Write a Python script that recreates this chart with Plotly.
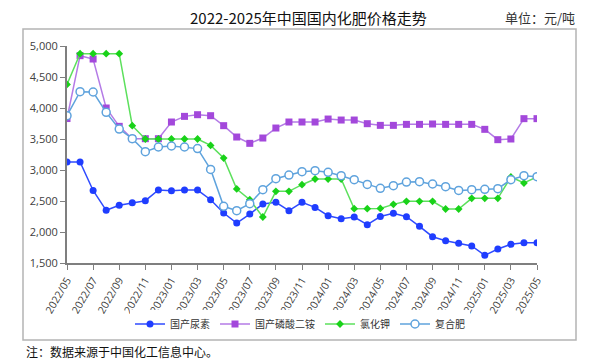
import plotly.graph_objects as go

months = ["2022/05","2022/06","2022/07","2022/08","2022/09","2022/10","2022/11","2022/12",
          "2023/01","2023/02","2023/03","2023/04","2023/05","2023/06","2023/07","2023/08",
          "2023/09","2023/10","2023/11","2023/12","2024/01","2024/02","2024/03","2024/04",
          "2024/05","2024/06","2024/07","2024/08","2024/09","2024/10","2024/11","2024/12",
          "2025/01","2025/02","2025/03","2025/04","2025/05"]

urea = [3130,3130,2670,2350,2430,2470,2505,2677,2666,2677,2677,2521,2306,2145,2290,2451,
        2478,2344,2478,2397,2263,2215,2242,2118,2250,2301,2247,2091,1924,1860,1817,1774,
        1624,1726,1801,1828,1828]
dap = [3830,4844,4790,4000,3704,3505,3505,3505,3774,3865,3892,3876,3715,3532,3430,3516,
       3677,3774,3774,3774,3822,3806,3806,3747,3720,3720,3736,3736,3742,3736,3736,3736,
       3656,3489,3500,3828,3828]
potash = [4380,4876,4876,4876,4876,3715,3500,3500,3500,3500,3500,3397,3193,2694,2521,2242,
          2656,2656,2763,2855,2855,2855,2376,2376,2380,2446,2494,2494,2494,2371,2371,2543,
          2543,2543,2887,2790,2887]
compound = [3876,4263,4258,3930,3661,3505,3295,3371,3387,3371,3345,3010,2414,2344,2456,2682,
            2860,2919,2973,2989,2962,2908,2844,2768,2704,2747,2806,2812,2774,2731,2671,2682,
            2688,2699,2844,2908,2892]

tick_labels = months[::2]
y_ticks = [1500, 2000, 2500, 3000, 3500, 4000, 4500, 5000]

font_cjk = "Noto Sans CJK SC"
tick_font = dict(family="Open Sans, Noto Sans CJK SC", size=11, color="#404040")
xtick_font = dict(family="Open Sans, Noto Sans CJK SC", size=10.5, color="#404040")

fig = go.Figure()
fig.add_trace(go.Scatter(x=months, y=urea, name="国产尿素", mode="lines+markers",
                         line=dict(color="#2f4bff", width=1.5),
                         marker=dict(symbol="circle", size=7, color="#1f3dff")))
fig.add_trace(go.Scatter(x=months, y=dap, name="国产磷酸二铵", mode="lines+markers",
                         line=dict(color="#b47be6", width=1.5),
                         marker=dict(symbol="square", size=7, color="#a348db")))
fig.add_trace(go.Scatter(x=months, y=potash, name="氯化钾", mode="lines+markers",
                         line=dict(color="#5ce05c", width=1.5),
                         marker=dict(symbol="diamond", size=6, color="#19d219")))
fig.add_trace(go.Scatter(x=months, y=compound, name="复合肥", mode="lines+markers",
                         line=dict(color="#5fa3dd", width=1.5),
                         marker=dict(symbol="circle", size=8, color="white",
                                     line=dict(color="#5fa3dd", width=1.5))))

# page body has an 8px margin; work in window pixels and shift
OFF = 8
W, H = 598 - OFF, 364 - OFF
L, R, T, B = 67 - OFF, 537 - OFF, 46 - OFF, 263 - OFF
pw, ph = R - L, B - T

def px(x):
    return (x - OFF - L) / pw

def py(y):
    return (B - (y - OFF)) / ph

fig.update_layout(
    width=W, height=H,
    margin=dict(l=L, r=W - R, t=T, b=H - B, autoexpand=False),
    paper_bgcolor="white", plot_bgcolor="white",
    showlegend=True,
    legend=dict(orientation="h", x=px(300), xanchor="center", y=py(324), yanchor="middle",
                font=dict(family=font_cjk, size=10, color="#333333"),
                tracegroupgap=0, itemwidth=30),
    font=dict(family=font_cjk),
)
fig.update_xaxes(type="category", categoryorder="array", categoryarray=months,
                 range=[0, len(months) - 1], automargin=False,
                 tickmode="array", tickvals=tick_labels, ticktext=tick_labels,
                 tickangle=-60, tickfont=xtick_font,
                 showline=True, linecolor="#7f7f7f", linewidth=2,
                 ticks="outside", ticklen=5, tickcolor="#7f7f7f",
                 showgrid=False, zeroline=False)
fig.update_yaxes(range=[1500, 5000], tickvals=y_ticks, tickformat=",",
                 tickfont=tick_font, automargin=False,
                 showline=True, linecolor="#7f7f7f", linewidth=2,
                 ticks="outside", ticklen=5, tickcolor="#7f7f7f",
                 showgrid=False, zeroline=False)

# outer frame
box_l, box_r, box_t, box_b = 23, 576, 29, 340
fig.add_shape(type="rect", xref="paper", yref="paper",
              x0=px(box_l), x1=px(box_r), y0=py(box_b), y1=py(box_t),
              line=dict(color="#b4b4b4", width=1.5), fillcolor="rgba(0,0,0,0)",
              layer="above")

fig.add_annotation(text="2022-2025年中国国内化肥价格走势", xref="paper", yref="paper",
                   x=px(308), y=py(18), xanchor="center", yanchor="middle",
                   showarrow=False, font=dict(family=font_cjk, size=15, color="#111111"))
fig.add_annotation(text="单位：元/吨", xref="paper", yref="paper",
                   x=px(577), y=py(18), xanchor="right", yanchor="middle",
                   showarrow=False, font=dict(family=font_cjk, size=13, color="#333333"))
fig.add_annotation(text="注：数据来源于中国化工信息中心。", xref="paper", yref="paper",
                   x=px(24), y=py(351), xanchor="left", yanchor="middle",
                   showarrow=False, font=dict(family=font_cjk, size=12, color="#111111"))

fig.write_html("out.html")
